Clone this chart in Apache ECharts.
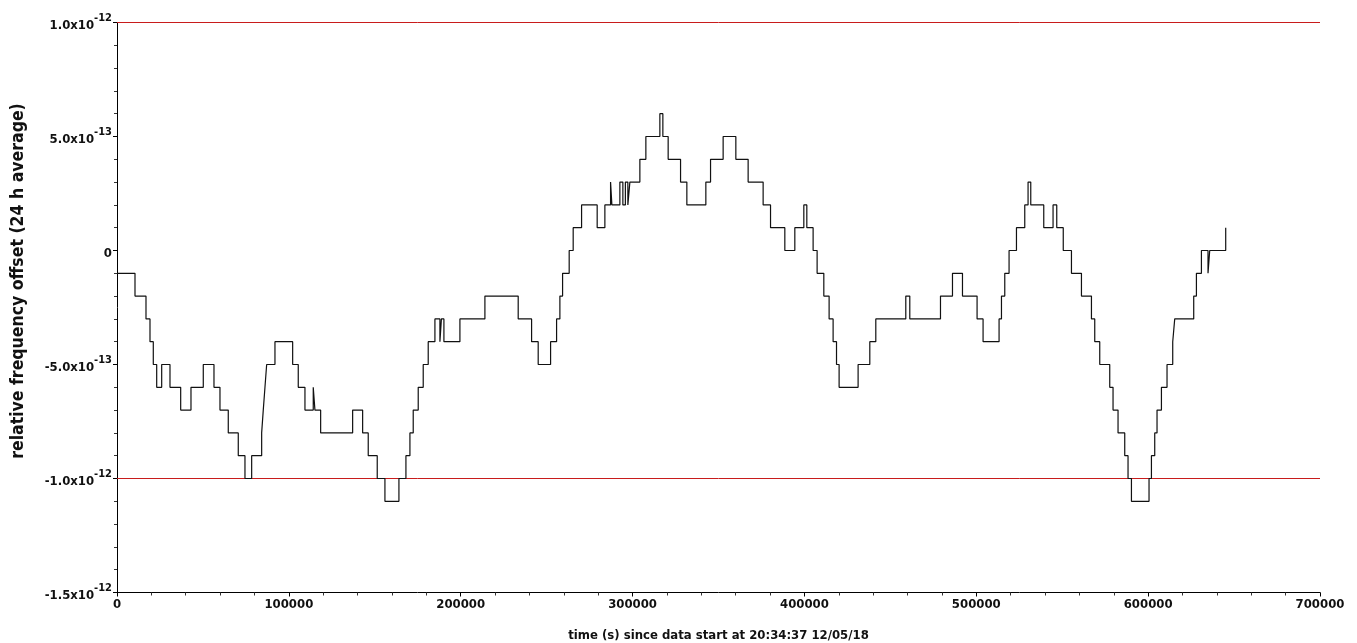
<!DOCTYPE html>
<html>
<head>
<meta charset="utf-8">
<script src="https://cdn.jsdelivr.net/npm/echarts@6/dist/echarts.min.js"></script>
<style>
html,body{margin:0;padding:0;background:#fff;}
#c{width:1357px;height:643px;}
</style>
</head>
<body>
<div id="c"></div>
<script>
// time (s) since data start
var times = [0,10471,16870,19197,21117,23095,26003,30832,37056,43048,50203,56428,59918,64746,70564,74461,78359,84176,85107,86096,87085,91913,102210,105467,109365,114193,115182,118498,137113,142930,146188,151424,155903,164047,168119,170446,172366,175275,178183,181092,184990,187898,188771,190225,199533,214076,233448,241243,245082,252296,255786,257706,259277,263116,265443,270329,279404,283883,287199,287955,292609,294354,295809,297263,298426,304244,307734,315878,317623,320707,327920,331585,342637,345371,352701,360089,367244,375970,380275,388594,394411,399647,401392,405056,407384,411281,414364,416691,418669,420181,431234,438040,441530,458982,461309,479168,486149,491966,500459,503950,513258,514654,516574,519075,523380,528208,530128,531698,539261,544671,546824,550605,555375,561192,567010,568929,571838,577655,579575,582483,586381,588301,590279,600517,601913,603833,605171,607730,610988,614304,615467,626520,628090,630999,634838,635827,645135];
// relative frequency offset, in units of 1e-13 (level starting at each time)
var offsets = [-1,-2,-3,-4,-5,-6,-5,-6,-7,-6,-5,-6,-7,-8,-9,-10,-9,-8,-7,-6,-5,-4,-5,-6,-7,-6,-7,-8,-7,-8,-9,-10,-11,-10,-9,-8,-7,-6,-5,-4,-3,-4,-3,-4,-3,-2,-3,-4,-5,-4,-3,-2,-1,0,1,2,1,2,3,2,3,2,3,2,3,4,5,6,5,4,3,2,3,4,5,4,3,2,1,0,1,2,1,0,-1,-2,-3,-4,-5,-6,-5,-4,-3,-2,-3,-2,-1,-2,-3,-4,-3,-2,-1,0,1,2,3,2,1,2,1,0,-1,-2,-3,-4,-5,-6,-7,-8,-9,-10,-11,-10,-9,-8,-7,-6,-5,-4,-3,-2,-1,0,-1,0,1];
// limit lines (units of 1e-13)
var limits = [10, -10];
var xRange = [0, 700000];
var yRange = [-15, 10];

// step path: hold previous level until the next time, then jump
var seriesData = [];
times.forEach(function(t,i){
  if (i > 0) seriesData.push([t, offsets[i-1]]);
  seriesData.push([t, offsets[i]]);
});

function yLabel(v){
  if (v === 0) return '{m|0}';
  var real = v * 1e-13;
  var e = Math.floor(Math.log10(Math.abs(real)) + 1e-9);
  var m = real / Math.pow(10, e);
  return '{m|' + m.toFixed(1) + 'x10}{e|' + e + '}';
}

var FONT = '"Liberation Sans Narrow","DejaVu Sans Condensed","Liberation Sans",sans-serif';
var chart = echarts.init(document.getElementById('c'), null, {renderer:'canvas'});
var series = [{
  type:'line', showSymbol:false, symbol:'none', z:3,
  data:seriesData,
  lineStyle:{color:'#111111', width:1.2},
  emphasis:{disabled:true}
}];
limits.forEach(function(l){
  series.push({
    type:'line', showSymbol:false, symbol:'none', z:2,
    data:[[xRange[0], l],[xRange[1], l]],
    lineStyle:{color:'#c81c1c', width:1},
    emphasis:{disabled:true}
  });
});
chart.setOption({
  animation:false,
  backgroundColor:'#ffffff',
  grid:{left:117, right:37, top:22.5, bottom:50.5, containLabel:false, outerBoundsMode:'none'},
  graphic:[{
    type:'text', x:18, y:281, rotation:Math.PI/2,
    style:{text:'relative frequency offset (24 h average)', fontFamily:FONT, fontWeight:'bold',
      fontSize:17.5, fill:'#111', align:'center', verticalAlign:'middle'}
  }],
  xAxis:{
    type:'value', min:xRange[0], max:xRange[1], interval:100000,
    name:'time (s) since data start at 20:34:37 12/05/18',
    nameLocation:'middle', nameGap:37,
    nameTextStyle:{fontFamily:FONT, fontWeight:'bold', fontSize:13, color:'#111'},
    axisLine:{show:true, onZero:false, lineStyle:{color:'#000', width:1}},
    axisTick:{show:true, inside:false, length:4, lineStyle:{color:'#000'}},
    minorTick:{show:true, splitNumber:5, length:3, lineStyle:{color:'#333'}},
    splitLine:{show:false},
    axisLabel:{fontFamily:FONT, fontWeight:'bold', fontSize:13, color:'#111', margin:6,
      formatter:function(v){return String(v);}}
  },
  yAxis:{
    type:'value', min:yRange[0], max:yRange[1], interval:5,
    axisLine:{show:true, onZero:false, lineStyle:{color:'#000', width:1}},
    axisTick:{show:true, inside:false, length:4, lineStyle:{color:'#000'}},
    minorTick:{show:true, splitNumber:5, length:3, lineStyle:{color:'#333'}},
    splitLine:{show:false},
    axisLabel:{margin:5, formatter:yLabel,
      rich:{
        m:{fontFamily:FONT, fontWeight:'bold', fontSize:13, color:'#111', lineHeight:19, verticalAlign:'bottom'},
        e:{fontFamily:FONT, fontWeight:'bold', fontSize:11, color:'#111', lineHeight:19, verticalAlign:'top'}
      }}
  },
  series:series
});
</script>
</body>
</html>
